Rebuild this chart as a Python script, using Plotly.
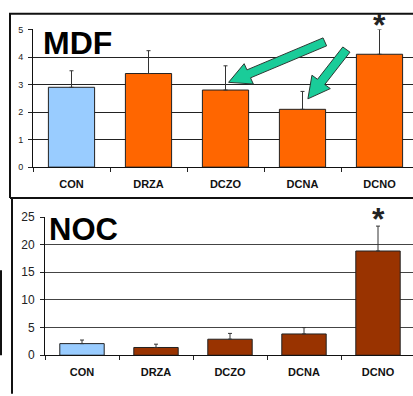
import plotly.graph_objects as go

# ---- data ----
categories = ["CON", "DRZA", "DCZO", "DCNA", "DCNO"]

mdf_values = [2.9, 3.4, 2.8, 2.1, 4.1]
mdf_errors = [0.6, 0.83, 0.88, 0.65, 0.9]
mdf_colors = ["#99CCFF", "#FF6600", "#FF6600", "#FF6600", "#FF6600"]

noc_values = [2.1, 1.4, 2.9, 3.85, 18.85]
noc_errors = [0.65, 0.6, 1.05, 1.15, 4.5]
noc_colors = ["#99CCFF", "#993300", "#993300", "#993300", "#993300"]

mdf_ticks = [0, 1, 2, 3, 4, 5]
noc_ticks = [0, 5, 10, 15, 20, 25]

# ---- page geometry (pixels) ----
W, H = 413, 396
FONT = "Arial, Liberation Sans, sans-serif"

top_left, top_zero, top_max = 33, 166, 23.3
bot_left, bot_zero, bot_max = 45, 361, 217.7
top_band, bot_band = 77, 74


def px(x):
    return x / W


def py(y):
    return 1 - y / H


top_xrange = [-0.5, -0.5 + (W - top_left) / top_band]
bot_xrange = [-0.5, -0.5 + (W - bot_left) / bot_band]

fig = go.Figure()

fig.add_trace(go.Bar(
    x=categories, y=mdf_values, width=0.6,
    marker=dict(color=mdf_colors, line=dict(color="#222222", width=1)),
    error_y=dict(type="data", array=mdf_errors, arrayminus=[0] * 5,
                 symmetric=False, color="#333333", thickness=1, width=2),
    xaxis="x", yaxis="y", showlegend=False, hoverinfo="skip",
))
fig.add_trace(go.Bar(
    x=categories, y=noc_values, width=0.6,
    marker=dict(color=noc_colors, line=dict(color="#222222", width=1)),
    error_y=dict(type="data", array=noc_errors, arrayminus=[0] * 5,
                 symmetric=False, color="#333333", thickness=1, width=2),
    xaxis="x2", yaxis="y2", showlegend=False, hoverinfo="skip",
))

xcommon = dict(
    type="category", tickson="boundaries", ticks="outside", ticklen=4,
    tickcolor="#222222", showline=True, linecolor="#111111", linewidth=1,
    showgrid=False, zeroline=False, ticklabelstandoff=7,
    tickfont=dict(family=FONT, size=11, color="#111111", weight="bold"),
)
ycommon = dict(
    ticks="outside", ticklen=4, tickcolor="#222222", showline=True,
    linecolor="#111111", linewidth=1, showgrid=True, zeroline=False,
    ticklabelstandoff=3,
)

fig.update_layout(
    width=W, height=H,
    margin=dict(l=0, r=0, t=0, b=0),
    paper_bgcolor="white", plot_bgcolor="white",
    bargap=0.4,
    xaxis=dict(domain=[px(top_left), 1], range=top_xrange, anchor="y", **xcommon),
    yaxis=dict(domain=[py(top_zero), py(top_max)], range=[0, 5],
               tickvals=mdf_ticks, gridcolor="#222222", anchor="x",
               tickfont=dict(family=FONT, size=9, color="#222222"), **ycommon),
    xaxis2=dict(domain=[px(bot_left), 1], range=bot_xrange, anchor="y2", **xcommon),
    yaxis2=dict(domain=[py(bot_zero), py(bot_max)], range=[0, 25],
                tickvals=noc_ticks, gridcolor="#444444", anchor="x2",
                tickfont=dict(family=FONT, size=12, color="#222222"), **ycommon),
)

# panel titles
fig.add_annotation(text="<b>MDF</b>", xref="paper", yref="paper",
                   x=px(41), y=py(37.5), xanchor="left", yanchor="middle",
                   showarrow=False, font=dict(family=FONT, size=32, color="black"))
fig.add_annotation(text="<b>NOC</b>", xref="paper", yref="paper",
                   x=px(47), y=py(230.5), xanchor="left", yanchor="middle",
                   showarrow=False, font=dict(family=FONT, size=31, color="black"))

# significance stars above the DCNO error bars
fig.add_annotation(text="<b>*</b>", x="DCNO", y=mdf_values[4] + mdf_errors[4],
                   xref="x", yref="y", showarrow=False, yanchor="top",
                   yshift=23, borderpad=0,
                   font=dict(family=FONT, size=32, color="#222222"))
fig.add_annotation(text="<b>*</b>", x="DCNO", y=noc_values[4] + noc_errors[4],
                   xref="x2", yref="y2", showarrow=False, yanchor="top",
                   yshift=26, borderpad=0,
                   font=dict(family=FONT, size=32, color="#222222"))


# block arrows pointing at DCZO and DCNA in the MDF panel
def top_to_px(xi, yv):
    x = top_left + (xi + 0.5) * top_band
    y = top_zero - yv * (top_zero - top_max) / 5
    return x, y


def block_arrow(tail, tip, shaft=4.5, head=11.5, head_len=22):
    (tx, ty), (hx, hy) = tail, tip
    dx, dy = hx - tx, hy - ty
    length = (dx * dx + dy * dy) ** 0.5
    ux, uy = dx / length, dy / length
    nx, ny = -uy, ux
    bx, by = hx - ux * head_len, hy - uy * head_len
    pts = [
        (tx + nx * shaft, ty + ny * shaft),
        (bx + nx * shaft, by + ny * shaft),
        (bx + nx * head, by + ny * head),
        (hx, hy),
        (bx - nx * head, by - ny * head),
        (bx - nx * shaft, by - ny * shaft),
        (tx - nx * shaft, ty - ny * shaft),
    ]
    return "M " + " L ".join(f"{px(x):.5f},{py(y):.5f}" for x, y in pts) + " Z"


arrows = [
    (top_to_px(3.29, 4.55), top_to_px(2.04, 3.08)),
    (top_to_px(3.57, 4.27), top_to_px(3.07, 2.48)),
]
for tail, tip in arrows:
    fig.add_shape(type="path", xref="paper", yref="paper",
                  path=block_arrow(tail, tip), fillcolor="#1ACC99",
                  line=dict(color="#2A3A33", width=1), layer="above")

# panel frames
frame = dict(color="#111111", width=2)
fig.add_shape(type="path", xref="paper", yref="paper",
              path=f"M {px(10)},{py(198)} L {px(10)},{py(7)} L {px(W + 5)},{py(7)}",
              line=frame)
fig.add_shape(type="line", xref="paper", yref="paper",
              x0=px(10), y0=py(198), x1=px(W + 5), y1=py(198), line=frame)
fig.add_shape(type="line", xref="paper", yref="paper",
              x0=px(12), y0=py(198), x1=px(12), y1=py(H + 5), line=frame)
fig.add_shape(type="line", xref="paper", yref="paper",
              x0=px(1), y0=py(273), x1=px(1), y1=py(361), line=frame)

fig.write_html("out.html")
